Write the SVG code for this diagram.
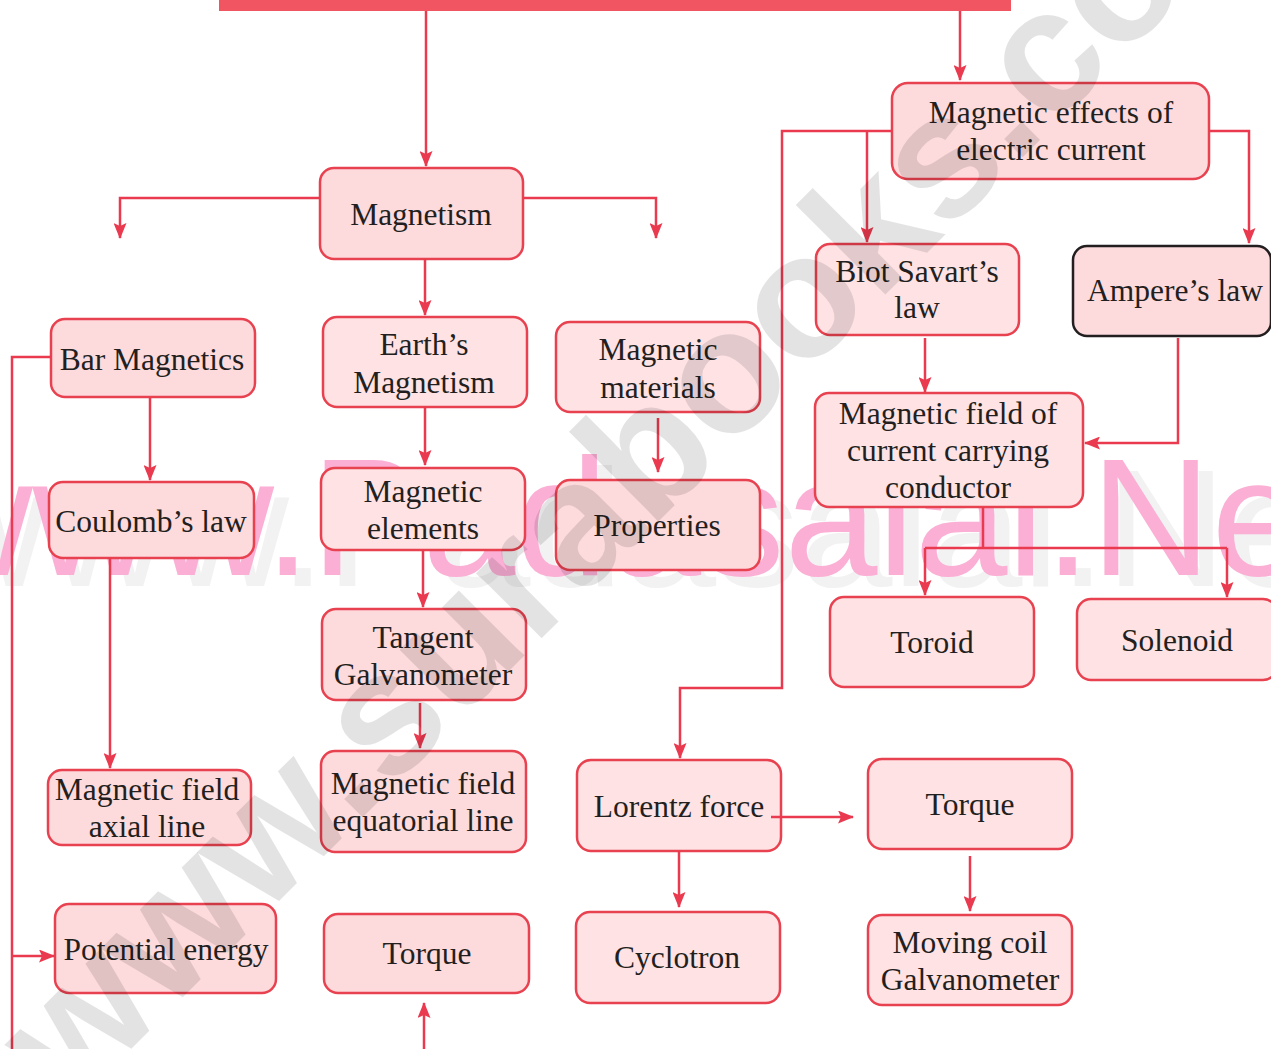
<svg xmlns="http://www.w3.org/2000/svg" width="1271" height="1049" viewBox="0 0 1271 1049">
<style>
.box{stroke:#e8414f;stroke-width:2.5;}
.dk{fill:#fddadc;}
.lt{fill:#fee2e4;}
.blk{stroke:#231f20;}
.t{font-family:"Liberation Serif","Times New Roman",serif;font-size:31.5px;fill:#231f20;text-anchor:middle;}
.c{fill:none;stroke:#ea3a4f;stroke-width:2.5;}
.wm1{font-family:"Liberation Sans",Arial,sans-serif;font-size:167px;}
.wm2{font-family:"Liberation Sans",Arial,sans-serif;font-size:175px;font-weight:bold;fill:#000;fill-opacity:0.11;}
</style>
<defs>
<marker id="ah" viewBox="0 0 16 13" refX="15" refY="6.5" markerWidth="16" markerHeight="13" markerUnits="userSpaceOnUse" orient="auto">
<path d="M0,0 L16,6.5 L0,13 L3,6.5 z" fill="#ea3a4f"/>
</marker>
</defs>
<rect width="1271" height="1049" fill="#ffffff"/>
<g id="watermark-padasalai">
<text class="wm1" x="-73" y="586" fill="#f2f2f2">www.Padasalai.Net</text>
<text class="wm1" x="-88" y="575" fill="#fbafd5">www.Padasalai.Net</text>
</g>
<g id="top-bar"><rect x="219" y="0" width="792" height="11" fill="#f25562"/></g>
<g id="n-magnetism"><rect class="box dk" x="320" y="168" width="203" height="91" rx="14"/><text class="t" x="421" y="225">Magnetism</text></g>
<g id="n-bar"><rect class="box dk" x="51" y="319" width="204" height="78" rx="14"/><text class="t" x="152" y="370">Bar Magnetics</text></g>
<g id="n-earth"><rect class="box lt" x="323" y="317" width="204" height="90" rx="14"/><text class="t" x="424" y="355">Earth’s</text><text class="t" x="424" y="393">Magnetism</text></g>
<g id="n-materials"><rect class="box lt" x="556" y="322" width="204" height="90" rx="14"/><text class="t" x="658" y="360">Magnetic</text><text class="t" x="658" y="398">materials</text></g>
<g id="n-coulomb"><rect class="box dk" x="49" y="482" width="205" height="76" rx="14"/><text class="t" x="151" y="532">Coulomb’s law</text></g>
<g id="n-elements"><rect class="box lt" x="321" y="468" width="204" height="82" rx="14"/><text class="t" x="423" y="502">Magnetic</text><text class="t" x="423" y="539">elements</text></g>
<g id="n-properties"><rect class="box dk" x="556" y="480" width="204" height="90" rx="14"/><text class="t" x="657" y="536">Properties</text></g>
<g id="n-tangent"><rect class="box dk" x="322" y="609" width="204" height="91" rx="14"/><text class="t" x="423" y="648">Tangent</text><text class="t" x="423" y="685">Galvanometer</text></g>
<g id="n-axial"><rect class="box dk" x="48" y="770" width="203" height="75" rx="14"/><text class="t" x="147" y="800">Magnetic field</text><text class="t" x="147" y="837">axial line</text></g>
<g id="n-equatorial"><rect class="box dk" x="321" y="751" width="205" height="101" rx="14"/><text class="t" x="423" y="794">Magnetic field</text><text class="t" x="423" y="831">equatorial line</text></g>
<g id="n-potential"><rect class="box dk" x="55" y="904" width="221" height="89" rx="14"/><text class="t" x="166" y="960">Potential energy</text></g>
<g id="n-torque-left"><rect class="box dk" x="324" y="914" width="205" height="79" rx="14"/><text class="t" x="427" y="964">Torque</text></g>
<g id="n-effects"><rect class="box dk" x="892" y="83" width="317" height="96" rx="16"/><text class="t" x="1051" y="123">Magnetic effects of</text><text class="t" x="1051" y="160">electric current</text></g>
<g id="n-biot"><rect class="box lt" x="816" y="244" width="203" height="91" rx="14"/><text class="t" x="917" y="282">Biot Savart’s</text><text class="t" x="917" y="318">law</text></g>
<g id="n-ampere"><rect class="box dk blk" x="1073" y="246" width="198" height="90" rx="14"/><text class="t" x="1175" y="301">Ampere’s law</text></g>
<g id="n-conductor"><rect class="box lt" x="815" y="393" width="268" height="114" rx="14"/><text class="t" x="948" y="424">Magnetic field of</text><text class="t" x="948" y="461">current carrying</text><text class="t" x="948" y="498">conductor</text></g>
<g id="n-toroid"><rect class="box lt" x="830" y="597" width="204" height="90" rx="14"/><text class="t" x="932" y="653">Toroid</text></g>
<g id="n-solenoid"><rect class="box lt" x="1077" y="599" width="200" height="81" rx="14"/><text class="t" x="1177" y="651">Solenoid</text></g>
<g id="n-lorentz"><rect class="box lt" x="577" y="760" width="204" height="91" rx="14"/><text class="t" x="679" y="817">Lorentz force</text></g>
<g id="n-torque-right"><rect class="box lt" x="868" y="759" width="204" height="90" rx="14"/><text class="t" x="970" y="815">Torque</text></g>
<g id="n-cyclotron"><rect class="box lt" x="576" y="912" width="204" height="91" rx="14"/><text class="t" x="677" y="968">Cyclotron</text></g>
<g id="n-moving"><rect class="box lt" x="868" y="915" width="204" height="90" rx="14"/><text class="t" x="970" y="953">Moving coil</text><text class="t" x="970" y="990">Galvanometer</text></g>
<g id="connectors">
<path class="c" d="M426,11 V166" marker-end="url(#ah)"/>
<path class="c" d="M960,11 V80" marker-end="url(#ah)"/>
<path class="c" d="M320,198 H120 V238" marker-end="url(#ah)"/>
<path class="c" d="M523,198 H656 V238" marker-end="url(#ah)"/>
<path class="c" d="M425,259 V315" marker-end="url(#ah)"/>
<path class="c" d="M150,398 V480" marker-end="url(#ah)"/>
<path class="c" d="M425,407 V465" marker-end="url(#ah)"/>
<path class="c" d="M658,418 V472" marker-end="url(#ah)"/>
<path class="c" d="M423,550 V607" marker-end="url(#ah)"/>
<path class="c" d="M420,703 V748" marker-end="url(#ah)"/>
<path class="c" d="M110,558 V768" marker-end="url(#ah)"/>
<path class="c" d="M51,357 H12 V1049"/>
<path class="c" d="M12,956 H54" marker-end="url(#ah)"/>
<path class="c" d="M424,1049 V1003" marker-end="url(#ah)"/>
<path class="c" d="M892,131 H782 V688 H680 V758" marker-end="url(#ah)"/>
<path class="c" d="M867,131 V242" marker-end="url(#ah)"/>
<path class="c" d="M1209,131 H1249 V243" marker-end="url(#ah)"/>
<path class="c" d="M925,338 V392" marker-end="url(#ah)"/>
<path class="c" d="M1178,338 V443 H1085" marker-end="url(#ah)"/>
<path class="c" d="M983,507 V548 M925,548 H1227"/>
<path class="c" d="M925,548 V595" marker-end="url(#ah)"/>
<path class="c" d="M1227,548 V597" marker-end="url(#ah)"/>
<path class="c" d="M771,817 H853" marker-end="url(#ah)"/>
<path class="c" d="M679,851 V907" marker-end="url(#ah)"/>
<path class="c" d="M970,856 V911" marker-end="url(#ah)"/>
</g>
<g id="watermark-surabooks">
<text class="wm2" transform="translate(70,1110) rotate(-45)">www.surabooks.com</text>
</g>
</svg>
